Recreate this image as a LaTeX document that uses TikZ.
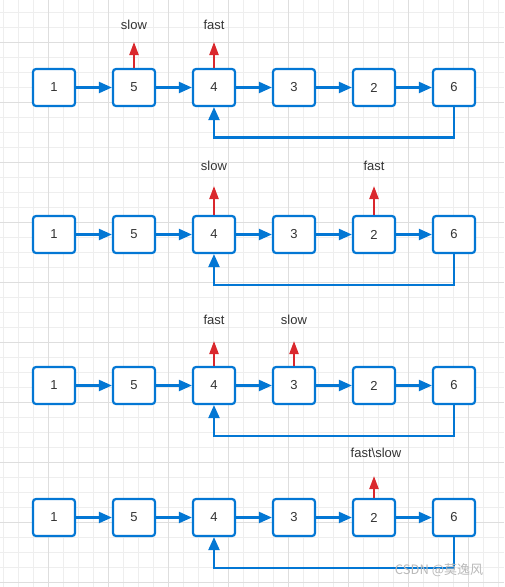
\documentclass[tikz,border=0pt]{standalone}
\usepackage{fontspec}
\setmainfont{Liberation Sans}
\newfontfamily\cjkfont{Noto Sans CJK SC}
\usetikzlibrary{arrows.meta,positioning}

\definecolor{linkblue}{RGB}{3,119,212}
\definecolor{ptrred}{RGB}{218,40,45}
\definecolor{textgray}{RGB}{51,51,51}
\definecolor{minorgrid}{RGB}{238,238,238}
\definecolor{majorgrid}{RGB}{222,222,222}

\begin{document}
\begin{tikzpicture}[x=1pt,y=-1pt,node distance=80pt,on grid,
    box/.style={draw=linkblue,line width=2.2pt,rounded corners=3pt,fill=white,
                minimum width=42pt,minimum height=37pt,text=textgray,
                font=\fontsize{13}{15}\selectfont},
    link/.style={draw=linkblue,line width=2.2pt,-{Triangle[length=13pt,width=11pt]}},
    ptr/.style={draw=ptrred,line width=2.2pt,-{Triangle[length=13pt,width=9pt]}},
    lbl/.style={text=textgray,font=\fontsize{13}{15}\selectfont}]
    \useasboundingbox (0,0) rectangle (504,587);
    % background grid
    \foreach \x in {3,18,...,503} \draw[minorgrid,line width=1pt] (\x,0) -- (\x,587);
    \foreach \y in {12,27,...,587} \draw[minorgrid,line width=1pt] (0,\y) -- (504,\y);
    \foreach \x in {48,108,...,503} \draw[majorgrid,line width=1pt] (\x,0) -- (\x,587);
    \foreach \y in {42,102,...,587} \draw[majorgrid,line width=1pt] (0,\y) -- (504,\y);

    % row 1
    \node[box] (a1) at (54,87.5) {1};
    \node[box] [right=of a1] (a5) {5};
    \node[box] [right=of a5] (a4) {4};
    \node[box] [right=of a4] (a3) {3};
    \node[box] [right=of a3] (a2) {2};
    \node[box] [right=of a2] (a6) {6};
    \foreach \s/\t in {1/5,5/4,4/3,3/2,2/6} \draw[link] (a\s) -- (a\t);
    \draw[link] (a6) -- ++(0,50) -| (a4);
    \node[lbl] (slowa) at (134,25) {slow};
    \node[lbl] (fasta) at (214,25) {fast};
    \draw[ptr] (a5) -- ++(0,-45.5);
    \draw[ptr] (a4) -- ++(0,-45.5);

    % row 2
    \node[box] (b1) at (54,234.5) {1};
    \node[box] [right=of b1] (b5) {5};
    \node[box] [right=of b5] (b4) {4};
    \node[box] [right=of b4] (b3) {3};
    \node[box] [right=of b3] (b2) {2};
    \node[box] [right=of b2] (b6) {6};
    \foreach \s/\t in {1/5,5/4,4/3,3/2,2/6} \draw[link] (b\s) -- (b\t);
    \draw[link] (b6) -- ++(0,50.5) -| (b4);
    \node[lbl] (slowb) at (214,166) {slow};
    \node[lbl] (fastb) at (374,166) {fast};
    \draw[ptr] (b4) -- ++(0,-48.5);
    \draw[ptr] (b2) -- ++(0,-48.5);

    % row 3
    \node[box] (c1) at (54,385.5) {1};
    \node[box] [right=of c1] (c5) {5};
    \node[box] [right=of c5] (c4) {4};
    \node[box] [right=of c4] (c3) {3};
    \node[box] [right=of c3] (c2) {2};
    \node[box] [right=of c2] (c6) {6};
    \foreach \s/\t in {1/5,5/4,4/3,3/2,2/6} \draw[link] (c\s) -- (c\t);
    \draw[link] (c6) -- ++(0,50.5) -| (c4);
    \node[lbl] (fastc) at (214,320) {fast};
    \node[lbl] (slowc) at (294,320) {slow};
    \draw[ptr] (c4) -- ++(0,-44.5);
    \draw[ptr] (c3) -- ++(0,-44.5);

    % row 4
    \node[box] (d1) at (54,517.5) {1};
    \node[box] [right=of d1] (d5) {5};
    \node[box] [right=of d5] (d4) {4};
    \node[box] [right=of d4] (d3) {3};
    \node[box] [right=of d3] (d2) {2};
    \node[box] [right=of d2] (d6) {6};
    \foreach \s/\t in {1/5,5/4,4/3,3/2,2/6} \draw[link] (d\s) -- (d\t);
    \draw[link] (d6) -- ++(0,50.5) -| (d4);
    \node[lbl] (bothd) at (376,453) {fast\textbackslash slow};
    \draw[ptr] (d2) -- ++(0,-41.5);

    % watermark
    \node[text=gray!55,font=\cjkfont\fontsize{13}{15}\selectfont] (mark) at (439,570) {CSDN @莫逸风};
\end{tikzpicture}
\end{document}
